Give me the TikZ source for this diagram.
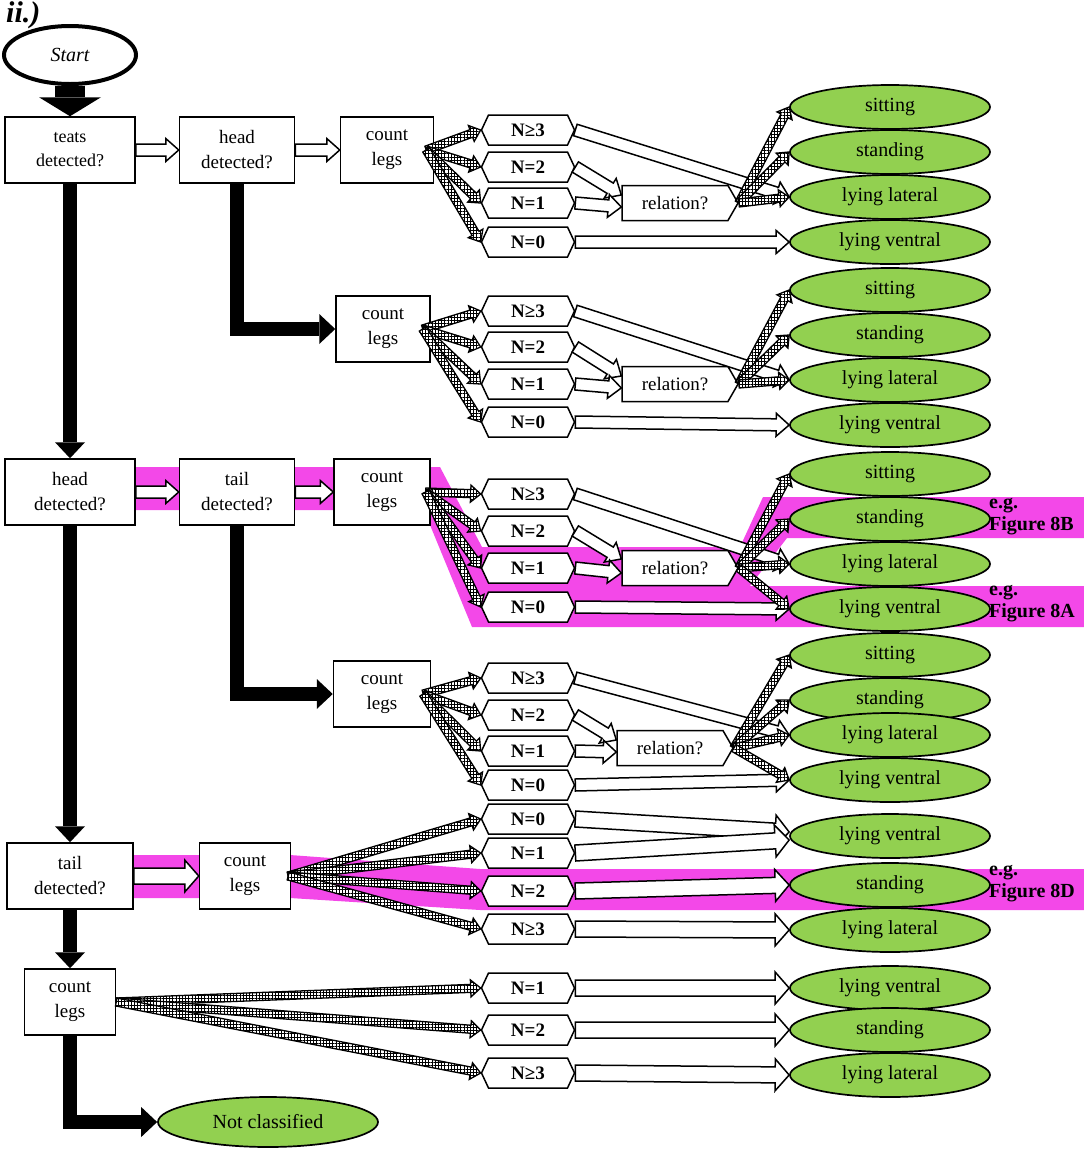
\documentclass[tikz,border=0pt]{standalone}
\usepackage{fontspec}
\setmainfont{Liberation Serif}
\usetikzlibrary{arrows.meta}
\usetikzlibrary{calc}
\usetikzlibrary{patterns.meta}
\usetikzlibrary{positioning}
\usetikzlibrary{shapes.geometric}
\usetikzlibrary{shapes.symbols}

\definecolor{leafgreen}{RGB}{146,208,80}
\definecolor{marker}{RGB}{243,72,232}

\tikzset{
  box/.style={rectangle,draw=black,line width=1.5pt,fill=white,minimum height=66pt,align=center,inner sep=2pt,font=\fontsize{19}{25}\selectfont},
  legbox/.style={shape=signal,signal to=west and east,signal pointer angle=130,draw=black,line width=1.5pt,fill=white,minimum width=93pt,minimum height=30pt,inner sep=0pt,font=\bfseries\fontsize{19}{22}\selectfont},
  relbox/.style={shape=signal,signal to=east,signal pointer angle=120,draw=black,line width=1.5pt,fill=white,minimum width=116pt,minimum height=35pt,inner sep=0pt,font=\fontsize{19}{22}\selectfont},
  pose/.style={ellipse,draw=black,line width=1.7pt,fill=leafgreen,minimum width=200pt,minimum height=44pt,inner sep=0pt,font=\fontsize{20}{22}\selectfont},
  figref/.style={anchor=west,align=left,inner sep=0pt,font=\bfseries\fontsize{20}{22}\selectfont},
  hollowline/.style={draw=black,line width=1.5pt,fill=white,line join=miter},
  hatchline/.style={draw=black,line width=1.3pt,line join=miter,preaction={fill=white},pattern={Hatch[angle=0,distance=3.2pt,line width=0.9pt]}},
  fatarrow/.style={draw=black,line width=14pt,line join=miter,-{Triangle[length=16pt,width=30pt,line width=0pt]}},
  startarrow/.style={draw=black,line width=30pt,-{Triangle[length=19pt,width=62pt,line width=0pt]}}
}

% style, half shaft, half head, head length, from, to
\newcommand{\blockarrow}[6]{%
  \coordinate (headbase) at ($(#6)!#4!(#5)$);
  \draw[#1] ($(#5)!#2!90:(#6)$) -- ($(headbase)!#2!90:(#6)$) -- ($(headbase)!#3!90:(#6)$) -- (#6)
    -- ($(headbase)!#3!-90:(#6)$) -- ($(headbase)!#2!-90:(#6)$) -- ($(#5)!#2!-90:(#6)$) -- cycle;}
\newcommand{\hollowarrow}[2]{\blockarrow{hollowline}{6pt}{11.5pt}{13pt}{#1}{#2}}
\newcommand{\widearrow}[2]{\blockarrow{hollowline}{8pt}{16pt}{14pt}{#1}{#2}}
\newcommand{\hatcharrow}[2]{\blockarrow{hatchline}{4pt}{8.5pt}{10pt}{#1}{#2}}

\begin{document}
\begin{tikzpicture}[x=1pt,y=-1pt]
  \useasboundingbox (0,0) rectangle (1084,1149);

  % highlighted paths
  \fill[marker] (135,467) -- (440,467) -- (482,547) -- (740,547) -- (763,497) -- (1084,497) -- (1084,538)
    -- (787,538) -- (750,586) -- (1084,586) -- (1084,627) -- (472,627) -- (430,525) -- (430,510) -- (135,510) -- cycle;
  \fill[marker] (133,855) -- (290,855) -- (480,869) -- (1084,869) -- (1084,910) -- (480,910) -- (290,898) -- (133,898) -- cycle;

  \node[anchor=base west,inner sep=0pt,font=\bfseries\itshape\fontsize{30}{30}\selectfont] (panel) at (6,22) {ii.)};
  \node[ellipse,draw=black,line width=4pt,minimum width=132pt,minimum height=58pt,inner sep=0pt,font=\itshape\fontsize{20}{22}\selectfont] (start) at (70,55) {Start};

  % teats detected
  \node[box,minimum width=130pt,font=\fontsize{18}{24}\selectfont] (teats) at (70,150) {teats\\detected?};
  \node[box,minimum width=115pt] (head1) at (237,150) {head\\detected?};
  \node[box,minimum width=93pt] (count1) at (387,150) {count\\legs};
  \node[legbox] (n3a) at (528,130) {N≥3};
  \node[legbox] (n2a) at (528,167) {N=2};
  \node[legbox] (n1a) at (528,203) {N=1};
  \node[legbox] (n0a) at (528,242) {N=0};
  \node[relbox] (rel1) at (675,203) {relation?};
  \node[pose] (sit1) at (890,107) {sitting};
  \node[pose] (sta1) at (890,152) {standing};
  \node[pose] (lat1) at (890,197) {lying lateral};
  \node[pose] (ven1) at (890,242) {lying ventral};

  \node[box,minimum width=94pt] (count2) at (383,329) {count\\legs};
  \node[legbox] (n3b) at (528,311) {N≥3};
  \node[legbox] (n2b) at (528,347) {N=2};
  \node[legbox] (n1b) at (528,384) {N=1};
  \node[legbox] (n0b) at (528,422) {N=0};
  \node[relbox] (rel2) at (675,384) {relation?};
  \node[pose] (sit2) at (890,290) {sitting};
  \node[pose] (sta2) at (890,335) {standing};
  \node[pose] (lat2) at (890,380) {lying lateral};
  \node[pose] (ven2) at (890,425) {lying ventral};

  % head detected
  \node[box,minimum width=130pt] (head2) at (70,492) {head\\detected?};
  \node[box,minimum width=115pt] (tail1) at (237,492) {tail\\detected?};
  \node[box,minimum width=96pt] (count3) at (382,492) {count\\legs};
  \node[legbox] (n3c) at (528,494) {N≥3};
  \node[legbox] (n2c) at (528,531) {N=2};
  \node[legbox] (n1c) at (528,568) {N=1};
  \node[legbox] (n0c) at (528,607) {N=0};
  \node[relbox] (rel3) at (675,568) {relation?};
  \node[pose] (sit3) at (890,474) {sitting};
  \node[pose] (sta3) at (890,519) {standing};
  \node[pose] (lat3) at (890,564) {lying lateral};
  \node[pose] (ven3) at (890,609) {lying ventral};
  \node[figref] (ref8b) at (989,517) {e.g.\\Figure 8B};
  \node[figref] (ref8a) at (989,604) {e.g.\\Figure 8A};

  \node[box,minimum width=97pt] (count4) at (382,694) {count\\legs};
  \node[legbox] (n3d) at (528,678) {N≥3};
  \node[legbox] (n2d) at (528,715) {N=2};
  \node[legbox] (n1d) at (528,751) {N=1};
  \node[legbox] (n0d) at (528,785) {N=0};
  \node[relbox] (rel4) at (670,748) {relation?};
  \node[pose] (sit4) at (890,655) {sitting};
  \node[pose] (sta4) at (890,700) {standing};
  \node[pose] (lat4) at (890,735) {lying lateral};
  \node[pose] (ven4) at (890,780) {lying ventral};

  % tail detected
  \node[box,minimum width=126pt] (tail2) at (70,876) {tail\\detected?};
  \node[box,minimum width=91pt] (count5) at (245,876) {count\\legs};
  \node[legbox] (n0e) at (528,819) {N=0};
  \node[legbox] (n1e) at (528,853) {N=1};
  \node[legbox] (n2e) at (528,891) {N=2};
  \node[legbox] (n3e) at (528,929) {N≥3};
  \node[pose] (ven5) at (890,836) {lying ventral};
  \node[pose] (sta5) at (890,885) {standing};
  \node[pose] (lat5) at (890,930) {lying lateral};
  \node[figref] (ref8d) at (989,884) {e.g.\\Figure 8D};

  % nothing detected
  \node[box,minimum width=91pt] (count6) at (70,1002) {count\\legs};
  \node[legbox] (n1f) at (528,988) {N=1};
  \node[legbox] (n2f) at (528,1030) {N=2};
  \node[legbox] (n3f) at (528,1073) {N≥3};
  \node[pose] (ven6) at (890,988) {lying ventral};
  \node[pose] (sta6) at (890,1030) {standing};
  \node[pose] (lat6) at (890,1075) {lying lateral};
  \node[pose,minimum width=220pt,minimum height=50pt] (notcl) at (268,1122) {Not classified};

  % no branches
  \draw[startarrow] (start.south) -- (teats.north);
  \draw[fatarrow] (teats.south) -- (head2.north);
  \draw[fatarrow] (head2.south) -- (tail2.north);
  \draw[fatarrow] (tail2.south) -- (count6.north);
  \draw[fatarrow] (head1.south) |- (count2.west);
  \draw[fatarrow] (tail1.south) |- (count4.west);
  \draw[fatarrow] (count6.south) |- (notcl.west);

  % yes branches
  \hollowarrow{teats.east}{head1.west}
  \hollowarrow{head1.east}{count1.west}
  \hollowarrow{head2.east}{tail1.west}
  \hollowarrow{tail1.east}{count3.west}
  \widearrow{tail2.east}{count5.west}

  \coordinate (fan1) at ([xshift=-8pt]count1.east);
  \coordinate (fan2) at ([xshift=-8pt]count2.east);
  \coordinate (fan3) at ([xshift=-5pt]count3.east);
  \coordinate (fan4) at ([xshift=-8pt]count4.east);
  \coordinate (fan5) at ([xshift=-3pt]count5.east);
  \coordinate (fan6) at (count6.east);

  \hatcharrow{fan1}{n3a.west}
  \hatcharrow{fan1}{n2a.west}
  \hatcharrow{fan1}{n1a.west}
  \hatcharrow{fan1}{n0a.west}
  \hatcharrow{fan2}{n3b.west}
  \hatcharrow{fan2}{n2b.west}
  \hatcharrow{fan2}{n1b.west}
  \hatcharrow{fan2}{n0b.west}
  \hatcharrow{fan3}{n3c.west}
  \hatcharrow{fan3}{n2c.west}
  \hatcharrow{fan3}{n1c.west}
  \hatcharrow{fan3}{n0c.west}
  \hatcharrow{fan4}{n3d.west}
  \hatcharrow{fan4}{n2d.west}
  \hatcharrow{fan4}{n1d.west}
  \hatcharrow{fan4}{n0d.west}
  \hatcharrow{fan5}{n0e.west}
  \hatcharrow{fan5}{n1e.west}
  \hatcharrow{fan5}{n2e.west}
  \hatcharrow{fan5}{n3e.west}
  \hatcharrow{fan6}{n1f.west}
  \hatcharrow{fan6}{n2f.west}
  \hatcharrow{fan6}{n3f.west}

  \coordinate (rel1top) at ([yshift=8pt]rel1.west);
  \coordinate (rel1low) at ([yshift=-4pt]rel1.west);
  \coordinate (rel2top) at ([yshift=8pt]rel2.west);
  \coordinate (rel2low) at ([yshift=-4pt]rel2.west);
  \coordinate (rel3top) at ([yshift=9pt]rel3.west);
  \coordinate (rel3low) at ([yshift=-5pt]rel3.west);
  \coordinate (rel4top) at ([yshift=8pt]rel4.west);
  \coordinate (rel4low) at ([yshift=-4pt]rel4.west);
  \coordinate (ven5top) at ([yshift=4pt]ven5.west);
  \coordinate (ven5low) at ([yshift=-4pt]ven5.west);

  \hollowarrow{n3a.east}{lat1.west}
  \hollowarrow{n2a.east}{rel1top}
  \hollowarrow{n1a.east}{rel1low}
  \hollowarrow{n0a.east}{ven1.west}
  \hollowarrow{n3b.east}{lat2.west}
  \hollowarrow{n2b.east}{rel2top}
  \hollowarrow{n1b.east}{rel2low}
  \hollowarrow{n0b.east}{ven2.west}
  \hollowarrow{n3c.east}{lat3.west}
  \hollowarrow{n2c.east}{rel3top}
  \hollowarrow{n1c.east}{rel3low}
  \hollowarrow{n0c.east}{ven3.west}
  \hollowarrow{n3d.east}{lat4.west}
  \hollowarrow{n2d.east}{rel4top}
  \hollowarrow{n1d.east}{rel4low}
  \hollowarrow{n0d.east}{ven4.west}
  \widearrow{n0e.east}{ven5top}
  \widearrow{n1e.east}{ven5low}
  \widearrow{n2e.east}{sta5.west}
  \widearrow{n3e.east}{lat5.west}
  \widearrow{n1f.east}{ven6.west}
  \widearrow{n2f.east}{sta6.west}
  \widearrow{n3f.east}{lat6.west}

  \hatcharrow{rel1.east}{sit1.west}
  \hatcharrow{rel1.east}{sta1.west}
  \hatcharrow{rel1.east}{lat1.west}
  \hatcharrow{rel2.east}{sit2.west}
  \hatcharrow{rel2.east}{sta2.west}
  \hatcharrow{rel2.east}{lat2.west}
  \hatcharrow{rel3.east}{sit3.west}
  \hatcharrow{rel3.east}{sta3.west}
  \hatcharrow{rel3.east}{lat3.west}
  \hatcharrow{rel3.east}{ven3.west}
  \hatcharrow{rel4.east}{sit4.west}
  \hatcharrow{rel4.east}{sta4.west}
  \hatcharrow{rel4.east}{lat4.west}
  \hatcharrow{rel4.east}{ven4.west}
\end{tikzpicture}
\end{document}
